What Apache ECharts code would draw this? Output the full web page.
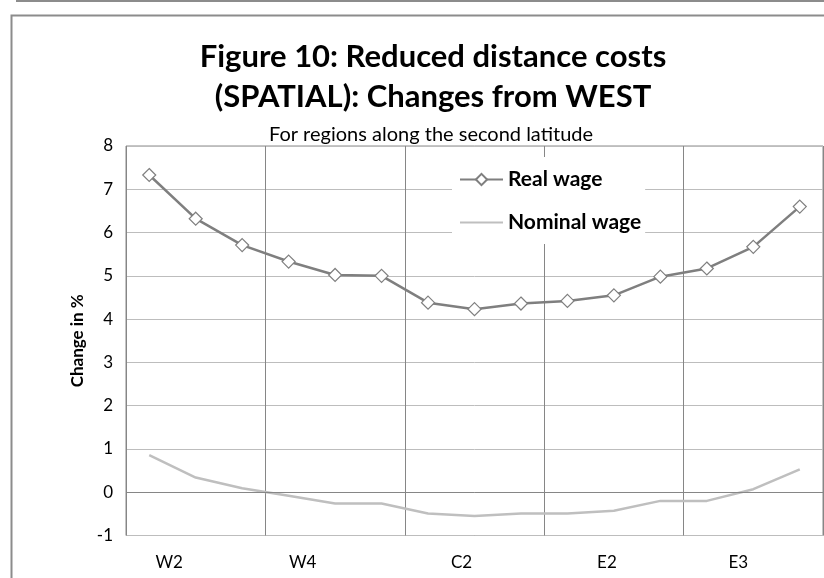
<!DOCTYPE html>
<html><head><meta charset="utf-8">
<script src="https://cdn.jsdelivr.net/npm/echarts@6/dist/echarts.min.js"></script>
<style>html,body{margin:0;padding:0;background:#fff}#c{width:824px;height:578px}</style>
</head><body><div id="c"></div>
<script>
// ---- data ----
const categories = ['W2','','','W4','','','','C2','','','E2','','','E3',''];
const realWage    = [7.33, 6.32, 5.71, 5.33, 5.02, 5.00, 4.38, 4.23, 4.36, 4.42, 4.55, 4.98, 5.17, 5.67, 6.60];
const nominalWage = [0.86, 0.34, 0.09, -0.08, -0.26, -0.26, -0.49, -0.55, -0.49, -0.49, -0.43, -0.20, -0.20, 0.07, 0.53];
const yTicks = [-1, 0, 1, 2, 3, 4, 5, 6, 7, 8];
// label nudges (pixels) for the category labels, kept apart from data
const labelNudge = {0: 20, 3: 14, 7: -13, 10: -7, 13: -15};

const FONT = 'Lato';
const xData = categories.map((c, i) => {
  const d = labelNudge[i] || 0;
  return {value: c, textStyle: {padding: d >= 0 ? [0, 0, 0, 2 * d] : [0, -2 * d, 0, 0]}};
});

const chart = echarts.init(document.getElementById('c'), null, {renderer: 'canvas'});
chart.setOption({
  animation: false,
  backgroundColor: '#fff',
  graphic: [
    {type: 'rect', shape: {x: 17, y: -10, width: 830, height: 11}, style: {fill: 'none', stroke: '#8c8c8c', lineWidth: 2}},
    {type: 'rect', shape: {x: 11.5, y: 15.5, width: 830, height: 600}, style: {fill: 'none', stroke: '#8c8c8c', lineWidth: 2}}
  ],
  title: [
    {text: 'Figure 10: Reduced distance costs\n(SPATIAL): Changes from WEST', left: 428, top: 32, textAlign: 'center',
     textStyle: {fontFamily: FONT, fontWeight: 'bold', fontSize: 31, lineHeight: 40, color: '#000'}},
    {text: 'For regions along the second latitude', left: 426, top: 120, textAlign: 'center',
     textStyle: {fontFamily: FONT, fontWeight: 'normal', fontSize: 20, lineHeight: 20, color: '#000'}}
  ],
  legend: {
    orient: 'vertical', left: 452, top: 157,
    backgroundColor: '#fff', padding: [12, 4, 11, 7],
    itemWidth: 43, itemHeight: 14, itemGap: 22,
    textStyle: {fontFamily: FONT, fontWeight: 'bold', fontSize: 21, lineHeight: 21, color: '#000'},
    data: ['Real wage', {name: 'Nominal wage', itemStyle: {opacity: 0}}]
  },
  grid: {left: 126, right: 1, top: 146, bottom: 42.5, show: true, borderColor: '#8a8a8a', borderWidth: 1, containLabel: false},
  xAxis: {
    type: 'category', data: xData, boundaryGap: true,
    axisLine: {onZero: false, show: false},
    axisTick: {show: false},
    axisLabel: {interval: 0, margin: 19, fontFamily: FONT, fontSize: 17, color: '#000'},
    splitLine: {show: true, interval: (i) => i % 3 === 0, lineStyle: {color: '#868686', width: 1}}
  },
  yAxis: {
    type: 'value', min: yTicks[0], max: yTicks[yTicks.length - 1], interval: 1,
    name: 'Change in %', nameLocation: 'middle', nameRotate: 90, nameGap: 40,
    nameTextStyle: {fontFamily: FONT, fontWeight: 'bold', fontSize: 17, color: '#000'},
    axisLine: {show: false}, axisTick: {show: false},
    axisLabel: {margin: 13, fontFamily: FONT, fontSize: 17, color: '#000'},
    splitLine: {show: true, lineStyle: {color: '#bdbdbd', width: 1}}
  },
  series: [
    {name: 'Nominal wage', type: 'line', data: nominalWage, symbol: 'none', showSymbol: false,
     lineStyle: {color: '#bfbfbf', width: 2.5}, itemStyle: {color: '#bfbfbf'},
     markLine: {silent: true, symbol: ['none', 'none'], label: {show: false},
       lineStyle: {color: '#868686', width: 1, type: 'solid'}, data: [{yAxis: 0}]}, z: 2},
    {name: 'Real wage', type: 'line', data: realWage, symbol: 'diamond', symbolSize: 13,
     lineStyle: {color: '#7f7f7f', width: 2.5},
     itemStyle: {color: '#ffffff', borderColor: '#7f7f7f', borderWidth: 1.2}, z: 3}
  ]
});
</script></body></html>
